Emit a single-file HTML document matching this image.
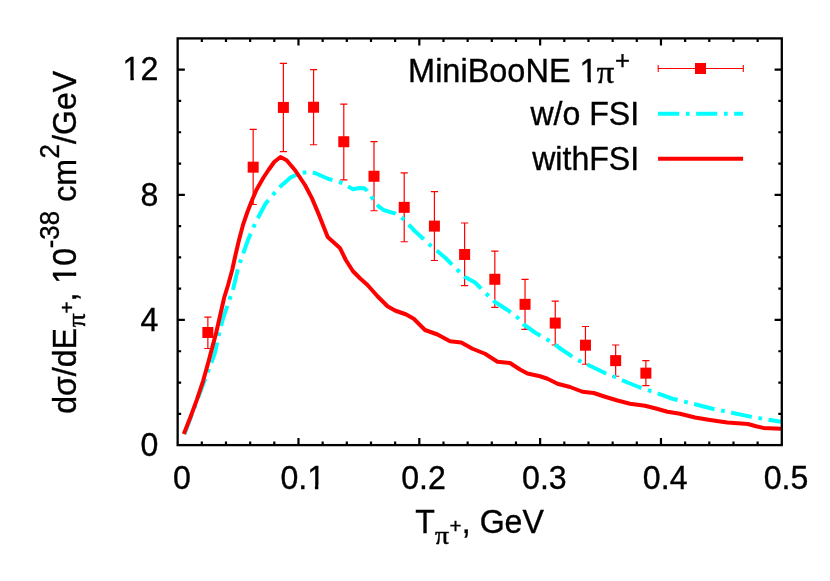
<!DOCTYPE html>
<html><head><meta charset="utf-8"><title>plot</title>
<style>html,body{margin:0;padding:0;background:#fff;}#w{width:830px;height:581px;will-change:transform;}svg{display:block;}text{font-family:"Liberation Sans",sans-serif;fill:#000;stroke:#000;stroke-width:0.35px;}.sy{font-family:"Liberation Serif",serif;stroke:#000;stroke-width:0.45px;}</style></head><body><div id="w">
<svg width="830" height="581" viewBox="0 0 830 581">
<rect x="0" y="0" width="830" height="581" fill="#fff"/>
<path d="M201.82 445.10v-3.50M201.82 38.40v3.50M225.98 445.10v-3.50M225.98 38.40v3.50M250.15 445.10v-3.50M250.15 38.40v3.50M274.31 445.10v-3.50M274.31 38.40v3.50M298.48 445.10v-7.20M298.48 38.40v7.20M322.65 445.10v-3.50M322.65 38.40v3.50M346.81 445.10v-3.50M346.81 38.40v3.50M370.98 445.10v-3.50M370.98 38.40v3.50M395.14 445.10v-3.50M395.14 38.40v3.50M419.31 445.10v-7.20M419.31 38.40v7.20M443.48 445.10v-3.50M443.48 38.40v3.50M467.64 445.10v-3.50M467.64 38.40v3.50M491.81 445.10v-3.50M491.81 38.40v3.50M515.97 445.10v-3.50M515.97 38.40v3.50M540.14 445.10v-7.20M540.14 38.40v7.20M564.31 445.10v-3.50M564.31 38.40v3.50M588.47 445.10v-3.50M588.47 38.40v3.50M612.64 445.10v-3.50M612.64 38.40v3.50M636.80 445.10v-3.50M636.80 38.40v3.50M660.97 445.10v-7.20M660.97 38.40v7.20M685.14 445.10v-3.50M685.14 38.40v3.50M709.30 445.10v-3.50M709.30 38.40v3.50M733.47 445.10v-3.50M733.47 38.40v3.50M757.63 445.10v-3.50M757.63 38.40v3.50M177.65 413.82h3.50M781.80 413.82h-3.50M177.65 382.53h3.50M781.80 382.53h-3.50M177.65 351.25h3.50M781.80 351.25h-3.50M177.65 319.96h7.20M781.80 319.96h-7.20M177.65 288.68h3.50M781.80 288.68h-3.50M177.65 257.39h3.50M781.80 257.39h-3.50M177.65 226.11h3.50M781.80 226.11h-3.50M177.65 194.82h7.20M781.80 194.82h-7.20M177.65 163.54h3.50M781.80 163.54h-3.50M177.65 132.25h3.50M781.80 132.25h-3.50M177.65 100.97h3.50M781.80 100.97h-3.50M177.65 69.68h7.20M781.80 69.68h-7.20" stroke="#000" stroke-width="2.2" fill="none"/>
<path d="M207.86 317.03V348.52M204.26 317.03h7.20M204.26 348.52h7.20M253.17 129.43V204.51M249.57 129.43h7.20M249.57 204.51h7.20M283.38 63.43V151.72M279.78 63.43h7.20M279.78 151.72h7.20M313.58 69.68V144.77M309.98 69.68h7.20M309.98 144.77h7.20M343.79 104.20V179.78M340.19 104.20h7.20M340.19 179.78h7.20M374.00 141.64V210.77M370.40 141.64h7.20M370.40 210.77h7.20M404.21 172.92V241.75M400.61 172.92h7.20M400.61 241.75h7.20M434.41 191.69V260.52M430.81 191.69h7.20M430.81 260.52h7.20M464.62 222.98V285.55M461.02 222.98h7.20M461.02 285.55h7.20M494.83 251.14V307.45M491.23 251.14h7.20M491.23 307.45h7.20M525.04 279.29V329.35M521.44 279.29h7.20M521.44 329.35h7.20M555.24 301.19V344.99M551.64 301.19h7.20M551.64 344.99h7.20M585.45 326.52V364.26M581.85 326.52h7.20M581.85 364.26h7.20M615.66 344.99V376.27M612.06 344.99h7.20M612.06 376.27h7.20M645.87 360.63V385.66M642.27 360.63h7.20M642.27 385.66h7.20" stroke="#f00" stroke-width="1.2" fill="none"/>
<g fill="#f00"><rect x="202.36" y="326.98" width="11.0" height="11.0"/><rect x="247.67" y="161.67" width="11.0" height="11.0"/><rect x="277.88" y="101.93" width="11.0" height="11.0"/><rect x="308.08" y="101.73" width="11.0" height="11.0"/><rect x="338.29" y="136.24" width="11.0" height="11.0"/><rect x="368.50" y="170.75" width="11.0" height="11.0"/><rect x="398.71" y="201.84" width="11.0" height="11.0"/><rect x="428.91" y="220.61" width="11.0" height="11.0"/><rect x="459.12" y="248.96" width="11.0" height="11.0"/><rect x="489.33" y="273.79" width="11.0" height="11.0"/><rect x="519.54" y="298.82" width="11.0" height="11.0"/><rect x="549.74" y="317.59" width="11.0" height="11.0"/><rect x="579.95" y="339.69" width="11.0" height="11.0"/><rect x="610.16" y="355.13" width="11.0" height="11.0"/><rect x="640.37" y="367.65" width="11.0" height="11.0"/></g>
<polyline points="184.50,434.00 214.60,354.00 219.00,334.30 222.90,319.00 226.65,307.90 229.96,298.00 233.06,289.30 237.70,269.60 240.30,261.50 248.00,240.00 255.50,222.50 265.50,203.75 278.00,188.75 290.50,177.50 300.50,173.00 308.00,172.00 315.50,173.25 328.00,178.75 340.50,182.50 348.50,186.80 353.00,189.30 359.40,188.00 364.20,188.30 367.20,190.70 372.30,198.20 378.10,205.80 383.50,210.00 395.50,213.60 403.30,218.90 415.00,231.25 430.00,245.00 445.00,257.50 457.50,270.00 465.00,277.00 475.00,282.50 485.00,292.50 495.00,302.00 507.50,310.00 517.50,317.50 523.75,324.50 535.00,332.50 550.00,341.25 562.50,350.00 577.50,360.00 592.50,367.00 605.00,373.00 615.00,377.00 627.50,382.50 640.00,387.50 655.00,392.50 672.50,398.75 695.00,404.25 712.50,408.75 731.80,412.70 751.70,416.90 781.00,421.70" fill="none" stroke="#00ffff" stroke-width="4" stroke-linejoin="round" stroke-dasharray="21.1 6.75 3.7 6.5"/>
<polyline points="183.80,434.00 190.70,416.40 196.80,399.90 203.00,381.30 208.20,362.70 210.50,354.00 216.30,332.20 224.20,297.50 228.00,285.25 232.20,270.00 235.25,256.00 239.00,240.00 243.25,224.10 247.40,212.00 252.10,200.00 256.50,189.80 263.50,177.50 268.50,170.00 274.20,162.00 280.50,157.00 286.60,160.20 295.30,170.50 305.00,185.00 312.00,198.40 319.40,215.90 327.70,237.00 339.90,247.90 345.80,260.00 353.00,271.25 360.50,278.75 367.50,285.00 377.50,296.25 387.50,306.25 395.00,310.50 406.25,314.50 413.75,318.75 425.00,330.00 437.50,334.50 450.00,341.25 461.25,342.50 472.50,348.75 485.00,353.75 497.50,361.75 510.00,363.00 520.00,369.50 527.50,373.50 540.00,376.25 547.50,378.75 557.50,383.75 570.00,387.00 582.50,391.75 593.75,393.00 605.00,396.75 617.50,400.50 630.00,403.75 645.00,405.75 655.00,408.25 667.50,411.75 680.00,413.75 695.00,417.50 710.00,420.00 727.25,422.50 748.00,424.00 756.00,426.20 763.40,427.90 781.00,428.70" fill="none" stroke="#f00" stroke-width="4" stroke-linejoin="round"/>
<rect x="177.65" y="38.40" width="604.15" height="406.70" fill="none" stroke="#000" stroke-width="2.3"/>
<path d="M658.2 68.5H743.3M658.2 64.9v7.2M743.3 64.9v7.2" stroke="#f00" stroke-width="1.1" fill="none"/>
<rect x="695" y="63" width="11" height="11" fill="#f00"/>
<path d="M658.07 113.75H742.95" stroke="#00ffff" stroke-width="4" stroke-dasharray="21.1 6.75 3.7 6.5" fill="none"/>
<path d="M658.07 158.8H743.1" stroke="#f00" stroke-width="4" fill="none"/>
<g transform="translate(408.10 82.10) scale(1.012 1.050)"><text font-size="32.1">MiniBooNE 1</text><rect x="170.43" y="-3.70" width="6.83" height="6.00" fill="#fff"/><rect x="180.69" y="-3.70" width="6.88" height="6.00" fill="#fff"/></g>
<g transform="translate(596.80 82.50) scale(1.080 1.000)"><text font-size="32.1" class="sy">π</text></g>
<g transform="translate(614.96 69.05) scale(1.000 1.000)"><text font-size="25.7">+</text></g>
<g transform="translate(639.20 124.60) scale(1.000 1.050)"><text font-size="32.1" text-anchor="end">w/o FSI</text></g>
<g transform="translate(639.20 169.90) scale(1.000 1.050)"><text font-size="32.1" text-anchor="end">withFSI</text></g>
<g transform="translate(181.85 489.00) scale(1.000 1.022)"><text font-size="32.1" text-anchor="middle">0</text></g>
<g transform="translate(302.68 489.00) scale(1.000 1.022)"><text font-size="32.1" text-anchor="middle">0.1</text><rect x="5.40" y="-3.70" width="6.83" height="6.00" fill="#fff"/><rect x="15.67" y="-3.70" width="6.88" height="6.00" fill="#fff"/></g>
<g transform="translate(423.51 489.00) scale(1.000 1.022)"><text font-size="32.1" text-anchor="middle">0.2</text></g>
<g transform="translate(544.34 489.00) scale(1.000 1.022)"><text font-size="32.1" text-anchor="middle">0.3</text></g>
<g transform="translate(665.17 489.00) scale(1.000 1.022)"><text font-size="32.1" text-anchor="middle">0.4</text></g>
<g transform="translate(786.00 489.00) scale(1.000 1.022)"><text font-size="32.1" text-anchor="middle">0.5</text></g>
<g transform="translate(158.30 456.10) scale(1.000 1.022)"><text font-size="32.1" text-anchor="end">0</text></g>
<g transform="translate(158.30 330.66) scale(1.000 1.022)"><text font-size="32.1" text-anchor="end">4</text></g>
<g transform="translate(158.30 205.82) scale(1.000 1.022)"><text font-size="32.1" text-anchor="end">8</text></g>
<g transform="translate(158.30 80.38) scale(1.000 1.022)"><text font-size="32.1" text-anchor="end">12</text><rect x="-34.76" y="-3.70" width="6.83" height="6.00" fill="#fff"/><rect x="-24.50" y="-3.70" width="6.88" height="6.00" fill="#fff"/></g>
<g transform="translate(415.20 533.10) scale(1.000 1.050)"><text font-size="32.1">T</text></g>
<g transform="translate(435.00 543.80) scale(1.080 0.980)"><text font-size="25.7" class="sy">π</text></g>
<g transform="translate(449.60 532.65) scale(1.000 1.000)"><text font-size="20.6">+</text></g>
<g transform="translate(461.80 533.10) scale(1.000 1.050)"><text font-size="32.1">, GeV</text></g>
<g transform="translate(75.50 413.70) rotate(-90) scale(1.000 1.050)"><text font-size="32.1">d</text></g>
<g transform="translate(75.50 396.00) rotate(-90) scale(1.000 1.050)"><text font-size="32.1">σ</text></g>
<g transform="translate(75.50 376.20) rotate(-90) scale(1.000 1.050)"><text font-size="32.1">/dE</text></g>
<g transform="translate(84.50 327.20) rotate(-90) scale(1.080 0.980)"><text font-size="25.7" class="sy">π</text></g>
<g transform="translate(74.05 313.45) rotate(-90) scale(1.000 1.000)"><text font-size="20.6">+</text></g>
<g transform="translate(75.50 301.50) rotate(-90) scale(1.000 1.050)"><text font-size="32.1">, 10</text><rect x="18.78" y="-3.70" width="6.83" height="6.00" fill="#fff"/><rect x="29.05" y="-3.70" width="6.88" height="6.00" fill="#fff"/></g>
<g transform="translate(59.00 248.20) rotate(-90) scale(1.000 1.050)"><text font-size="25.7">-38</text></g>
<g transform="translate(75.50 201.70) rotate(-90) scale(1.000 1.050)"><text font-size="32.1">cm</text></g>
<g transform="translate(59.00 158.50) rotate(-90) scale(1.000 1.050)"><text font-size="25.7">2</text></g>
<g transform="translate(75.50 144.00) rotate(-90) scale(1.000 1.050)"><text font-size="32.1">/GeV</text></g>
</svg></div></body></html>
